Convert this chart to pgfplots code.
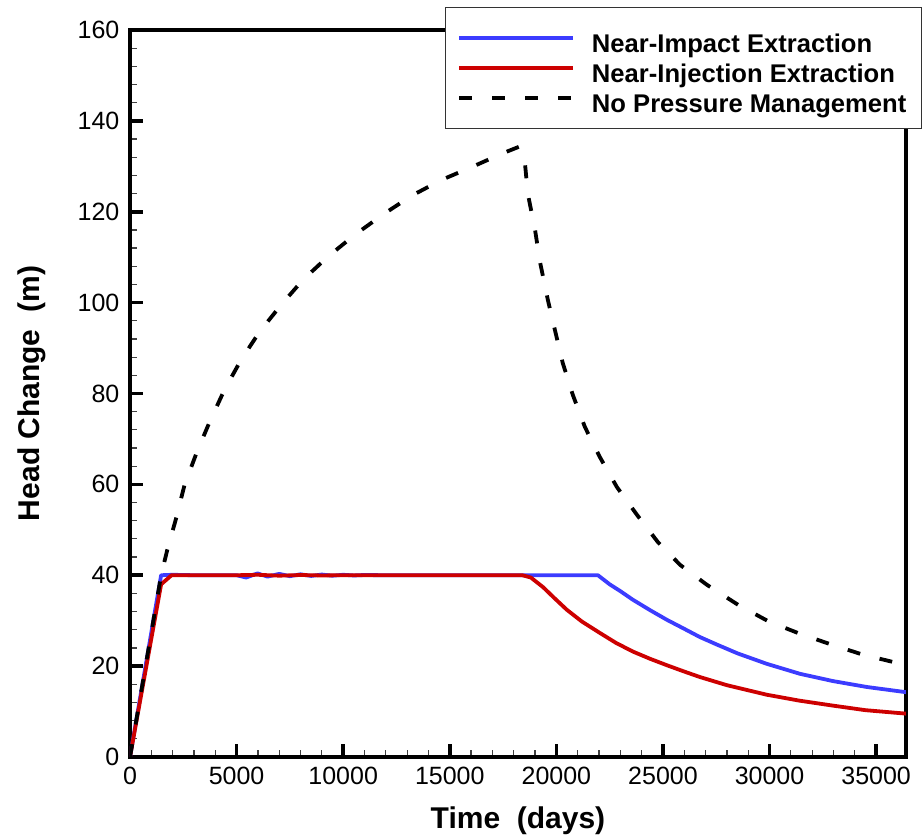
\documentclass[border=0pt]{standalone}
\usepackage{pgfplots}
\pgfplotsset{compat=1.18}
\usepackage{fontspec}
\setmainfont{Liberation Sans}
\usetikzlibrary{calc}
\definecolor{bl}{RGB}{60,60,255}
\definecolor{rd}{RGB}{205,0,0}
\begin{document}
\begin{tikzpicture}
\begin{axis}[
  scale only axis,
  width=388pt, height=363.5pt,
  xmin=0, xmax=36400, ymin=0, ymax=160,
  xtick={0,5000,...,35000},
  ytick={0,20,...,160},
  minor x tick num=4, minor y tick num=4,
  tick pos=left,
  scaled x ticks=false,
  /pgf/number format/1000 sep={},
  /pgf/number format/assume math mode=true,
  tick label style={font=\fontsize{12.5}{15}\selectfont},
  yticklabel style={xshift=-1.8pt},
  xticklabel style={yshift=-1.3pt},
  major tick length=6.5pt, minor tick length=3.5pt,
  major tick style={line width=1.8pt, black},
  minor tick style={line width=0.6pt, black!75},
  axis line style={line width=1.8pt},
  xlabel={\bfseries Time\ \ (days)},
  ylabel={\bfseries Head Change\ \ (m)},
  label style={font=\fontsize{15}{18}\selectfont},
  xlabel style={at={(axis description cs:0.5,-0.0977)}, anchor=base},
  ylabel style={at={(axis description cs:-0.1263,0.5)}, anchor=center, rotate=0},
  legend cell align=left,
  legend style={at={(1,1)}, anchor=north east, xshift=8pt, yshift=11.5pt,
    draw=black!80, line width=0.6pt, fill=white,
    font=\fontsize{12.8}{15}\selectfont\bfseries,
    inner xsep=6pt, inner ysep=7.75pt, row sep=0pt, column sep=7pt,
    nodes={inner xsep=1.5pt, inner ysep=0pt, text height=14.75pt, text depth=0.25pt}},
  legend image code/.code={\draw[#1] (0pt,0pt) -- (57pt,0pt);},
]
\addplot[bl, line width=1.9pt, line join=round] coordinates {
(0,0) (1460,40) (2000,40.1) (3000,40) (4000,40) (5000,40) (5450,39.5) (5980,40.4) (6450,39.7) (7000,40.3) (7500,39.8) (8000,40.2) (8500,39.85) (9000,40.15) (9500,39.9) (10000,40.1) (10500,39.95) (11000,40.05) (12000,40) (14000,40) (16000,40) (18000,40) (20000,40) (21950,40)
(22500,38.0) (23000,36.5) (23590,34.6) (24400,32.3) (25180,30.2) (26000,28.2) (26730,26.4) (27500,24.8) (28500,22.8) (29870,20.5) (31430,18.3) (32980,16.7) (34570,15.4) (36500,14.2)
};
\addlegendentry{Near-Impact Extraction}
\addplot[rd, line width=1.9pt, line join=round] coordinates {
(0,0) (1460,38) (1950,40) (3000,40) (5000,40) (6000,40.1) (7000,39.9) (8000,40.05) (9000,39.95) (10000,40) (12000,40) (14000,40) (16000,40) (18000,40) (18400,40)
(18800,39.5) (19370,37.4) (19900,35.0) (20490,32.4) (21200,29.8) (22040,27.3) (22800,25.1) (23590,23.2) (24400,21.6) (25180,20.2) (26000,18.8) (26730,17.6) (28000,15.8) (29870,13.7) (31400,12.4) (32980,11.3) (34500,10.3) (36500,9.5)
};
\addlegendentry{Near-Injection Extraction}
\addplot[black, line width=1.9pt, dash pattern=on 6.5pt off 10pt] coordinates {
(0,0) (1460,40) (1750,45.6) (2180,52.8) (2560,59.9) (3120,66.9) (3740,73.8) (4430,80.8) (5210,87.4) (6080,93.6) (7090,99.5) (8110,105) (9280,110.1) (10540,114.9) (11840,119.3) (13200,123.5) (14610,127) (16060,129.9) (17500,132.9) (18250,134.3)
(18520,131) (18660,124) (19000,116) (19230,109) (19600,100.6) (19930,94) (20300,86.7) (20770,79.7) (21340,72.6) (22040,66) (22840,59.4) (23780,53.3) (24760,47.3) (25800,42.3) (27060,37.9) (28520,33.5) (29930,29.9) (31430,27.1) (32930,24.7) (34390,22.5) (35980,20.7) (36500,20.2)
};
\addlegendentry{No Pressure Management}
\end{axis}
\pgfresetboundingbox
\path[use as bounding box] ($(current axis.south west)+(-65pt,-40.5pt)$) rectangle ($(current axis.north east)+(8.5pt,15pt)$);
\end{tikzpicture}
\end{document}
